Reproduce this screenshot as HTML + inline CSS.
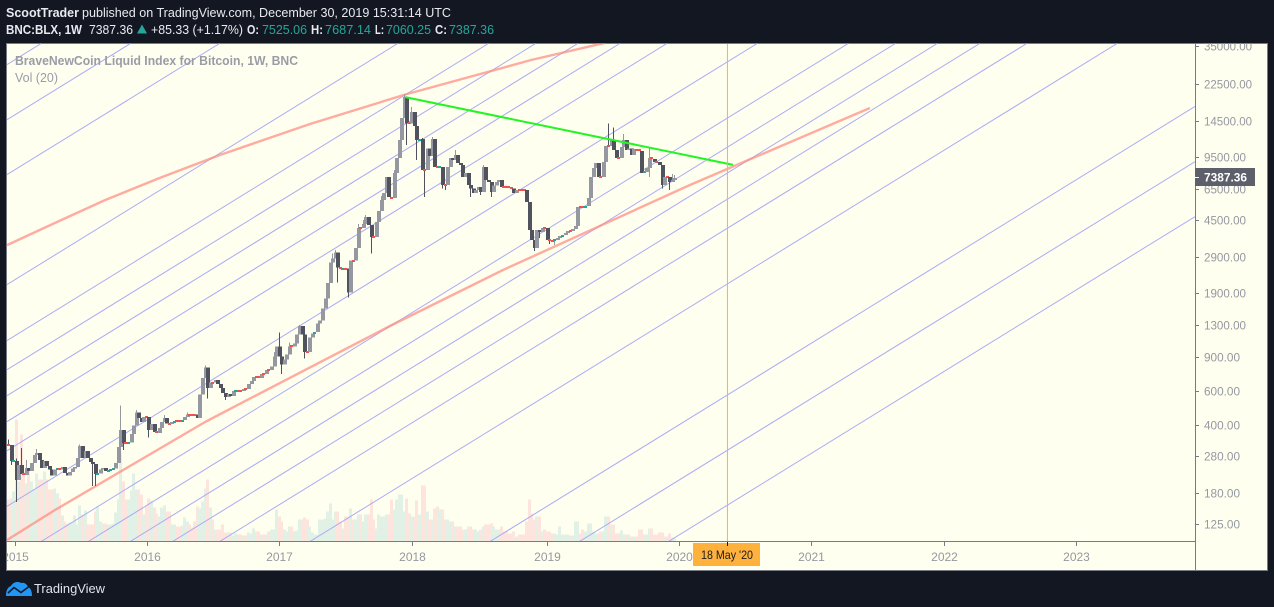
<!DOCTYPE html>
<html lang="en">
<head>
<meta charset="utf-8">
<title>BNC:BLX weekly chart</title>
<style>
html,body{margin:0;padding:0;background:#131722;width:1274px;height:607px;overflow:hidden}
svg{display:block;font-family:"Liberation Sans",sans-serif}
</style>
</head>
<body>
<svg id="chart" xmlns="http://www.w3.org/2000/svg" width="1274" height="607" viewBox="0 0 1274 607">
  <defs>
    <clipPath id="pane-clip"><rect x="7" y="43.5" width="1188" height="498"/></clipPath>
    <clipPath id="time-clip"><rect x="7" y="542" width="1188" height="28"/></clipPath>
    <clipPath id="price-clip"><rect x="1196" y="43.5" width="71" height="526"/></clipPath>
  </defs>

  <rect x="0" y="0" width="1274" height="607" fill="#131722"/>

  <g font-size="12.5" fill="#e8eaef">
    <text x="6" y="17" font-weight="700" textLength="73" lengthAdjust="spacingAndGlyphs">ScootTrader</text>
    <text x="82" y="17" textLength="369" lengthAdjust="spacingAndGlyphs">published on TradingView.com, December 30, 2019 15:31:14 UTC</text>
  </g>

  <g font-size="12.5" fill="#e8eaef">
    <text x="6" y="34" font-weight="700" textLength="76" lengthAdjust="spacingAndGlyphs">BNC:BLX, 1W</text>
    <text x="89" y="34" textLength="44" lengthAdjust="spacingAndGlyphs">7387.36</text>
    <polygon points="137,33.5 147,33.5 142,24.5" fill="#26a69a"/>
    <text x="151" y="34" textLength="92" lengthAdjust="spacingAndGlyphs">+85.33 (+1.17%)</text>
    <text x="247" y="34" font-weight="700" textLength="12" lengthAdjust="spacingAndGlyphs">O:</text>
    <text x="262" y="34" fill="#26a69a" textLength="45" lengthAdjust="spacingAndGlyphs">7525.06</text>
    <text x="311" y="34" font-weight="700" textLength="12" lengthAdjust="spacingAndGlyphs">H:</text>
    <text x="325" y="34" fill="#26a69a" textLength="46" lengthAdjust="spacingAndGlyphs">7687.14</text>
    <text x="375" y="34" font-weight="700" textLength="9" lengthAdjust="spacingAndGlyphs">L:</text>
    <text x="386" y="34" fill="#26a69a" textLength="45" lengthAdjust="spacingAndGlyphs">7060.25</text>
    <text x="435" y="34" font-weight="700" textLength="12" lengthAdjust="spacingAndGlyphs">C:</text>
    <text x="449" y="34" fill="#26a69a" textLength="45" lengthAdjust="spacingAndGlyphs">7387.36</text>
  </g>

  <rect x="6.5" y="43.5" width="1261" height="527" fill="#fffff0" stroke="#787b86" stroke-width="1"/>

  <g id="volume-layer" clip-path="url(#pane-clip)" shape-rendering="crispEdges"></g>
  <g id="channel-layer" clip-path="url(#pane-clip)"></g>
  <g id="trend-under-layer" clip-path="url(#pane-clip)"></g>
  <g id="candle-layer" clip-path="url(#pane-clip)" shape-rendering="crispEdges"></g>
  <g id="trend-over-layer" clip-path="url(#pane-clip)"></g>

  <g>
    <text x="15" y="65" font-size="12.5" font-weight="700" fill="#9a9ca6" textLength="283" lengthAdjust="spacingAndGlyphs">BraveNewCoin Liquid Index for Bitcoin, 1W, BNC</text>
    <text x="15" y="82" font-size="12.5" fill="#9a9ca6" textLength="43" lengthAdjust="spacingAndGlyphs">Vol (20)</text>
  </g>

  <line x1="1195.5" y1="43.5" x2="1195.5" y2="570" stroke="#787b86"/>
  <line x1="7" y1="541.5" x2="1195" y2="541.5" stroke="#787b86"/>
  <g id="price-axis" clip-path="url(#price-clip)"></g>
  <g id="time-axis" clip-path="url(#time-clip)"></g>

  <g>
    <rect x="1195" y="168" width="60" height="18" fill="#5d606b"/>
    <line x1="1195" y1="177.5" x2="1199" y2="177.5" stroke="#ffffff"/>
    <text x="1204" y="181.5" font-size="12" font-weight="700" fill="#ffffff" textLength="43" lengthAdjust="spacingAndGlyphs">7387.36</text>
  </g>

  <g>
    <rect x="693" y="543" width="67" height="23" fill="#ffb13e"/>
    <line x1="727.5" y1="542" x2="727.5" y2="546" stroke="#131722"/>
    <text x="701" y="559" font-size="12" fill="#1c1c1c" textLength="52" lengthAdjust="spacingAndGlyphs">18 May '20</text>
  </g>

  <g>
    <path d="M6 596 C6 590 8 587 11 586 C13 582 18 581 21 583 C24 582 27 584 28 587 C31 588 32 592 32 596 Z" fill="#2196f3"/>
    <path d="M8 593 L14 587.5 L21 592.5 L29 586.5" fill="none" stroke="#131722" stroke-width="1.6"/>
    <text x="34" y="593" font-size="13" fill="#e0e3eb" textLength="71" lengthAdjust="spacingAndGlyphs">TradingView</text>
  </g>
</svg>

<script>
// ---- chart data (weekly bars, index 0 = last week of 2014) ----
const closes = [
317,262,263,210,251,226,223,242,234,257,282,289,266,242,262,248,237,221,237,240,
237,245,228,221,231,240,245,272,313,272,296,272,260,254,226,227,237,242,234,235,
237,240,257,310,379,325,325,326,361,400,466,437,415,441,441,379,406,370,366,388,
415,437,410,406,415,420,420,420,426,441,454,454,454,454,437,574,700,790,622,662,
662,683,650,622,585,560,580,565,600,606,600,600,615,615,650,675,708,708,700,735,
735,770,770,800,900,1015,900,818,868,922,1015,1015,1050,1170,1290,1170,950,950,1130,1185,
1200,1330,1375,1590,1790,2150,2730,2860,3080,2570,2540,2545,2540,1920,2790,2790,3240,4100,4100,4300,
4670,4250,3690,3690,4400,5010,5700,6200,7480,5900,5830,7850,9370,11570,15000,19200,14100,14100,16100,13650,
11570,11700,8125,8125,10500,9580,11700,8420,8320,8420,6825,6825,8420,9370,9150,9700,8830,8630,7480,7850,
6825,6550,6200,6420,6650,6270,8420,7230,7050,6270,6750,7050,7230,6650,6650,6650,6650,6550,6200,6420,
6420,6420,6420,5560,4010,3560,3240,4010,3920,4100,4100,3560,3520,3520,3560,3640,3730,3775,3870,3960,
3960,4060,4200,5250,5250,5250,5310,5830,7500,8320,8830,7500,7500,8930,10770,10770,11570,10290,9370,9370,
10650,11570,10290,10500,9700,10400,10290,10170,7850,7950,8320,9370,9260,8950,8930,8630,6825,7500,7500,7050,
7230,7387.36
];
const firstOpen = 318;
const volumes = [
42,43,50,122,60,107,70,58,72,60,52,68,62,62,70,62,52,52,53,48,
43,26,20,18,19,19,26,17,36,27,31,17,17,17,30,35,20,18,18,17,
17,18,29,42,88,60,42,42,51,68,52,52,47,27,35,43,41,34,28,25,
34,36,30,30,17,17,15,15,16,24,20,17,14,20,35,33,40,53,62,34,
22,12,12,12,17,9,9,9,6,8,7,7,6,6,9,8,13,10,10,7,
7,7,10,12,12,32,25,20,12,10,15,15,10,11,22,22,24,22,15,9,
7,7,22,22,23,30,38,22,30,30,20,13,25,25,33,22,22,27,27,20,
27,27,42,22,13,27,25,25,27,27,42,32,42,47,47,30,43,28,25,25,
41,27,56,56,30,22,22,33,35,32,32,22,22,20,20,15,15,15,12,12,
15,15,12,12,10,12,15,17,17,18,15,12,12,15,10,10,8,8,10,5,
7,7,7,20,42,28,22,25,25,10,12,10,10,8,8,7,15,7,7,7,
6,6,20,20,8,12,10,18,18,10,8,8,10,10,25,25,17,17,8,8,
11,7,7,7,5,5,5,12,12,7,7,13,13,7,7,9,9,5,5,8,
4,3
];
const wickHighs = {0:338,3:270,5:307,7:266,11:303,28:320,44:505,45:379,50:479,61:452,70:466,77:808,78:790,
104:950,106:1195,110:1060,114:1310,127:3040,128:3160,137:4300,139:4510,140:4780,146:5980,151:8125,
155:19800,158:17100,162:11850,166:12000,175:10290,186:8630,235:14100,237:13400,241:12400,251:10500,
260:7760,261:7665};
const wickLows = {1:250,3:162,33:196,34:196,45:300,55:346,78:550,85:540,107:735,116:880,129:2160,133:1810,
142:3040,156:10900,160:9150,163:5900,170:6550,171:6420,181:5900,185:6050,189:5900,206:3120,208:3640,
212:3400,214:3350,251:7480,256:6550,259:6420};
const priceTicks = [35000,22500,14500,9500,6500,4500,2900,1900,1300,900,600,400,280,180,125];
const priceTickLabels = ["35000.00","22500.00","14500.00","9500.00","6500.00","4500.00","2900.00","1900.00","1300.00","900.00","600.00","400.00","280.00","180.00","125.00"];
const yearTickWeeks = [2.6,54.6,106.3,158.4,211.2,263,314.5,366.6,418.3];
const yearLabels = ["2015","2016","2017","2018","2019","2020","2021","2022","2023"];
// Parallel channel: price of each line at week 0 and weekly growth shared by all lines
const channelPricesAtWeekZero = [28380,14820,7750,2119,1095,777,572,421,299,155,79.9,56.7,41.8,30.7,21.8,11.3,3.05,1.59,0.832];
const channelWeeklyGrowth = 1.01875;
const channelWeekRange = [-20,520];
// Drawing anchors: weeks + prices
const lowerCurveWeeks = [-0.4,18.4,77.2,93.6,149.6,193.9,267.1,337.6];
const lowerCurvePrices = [103.5,147.5,416,539,1291,2498,6810,16880];
const upperCurveWeeks = [-0.4,19.2,38,59.5,83,118.3,155.1,204.9,233.9];
const upperCurvePrices = [3350,4400,5700,7400,9700,13975,19700,29750,36400];
const resistanceWeeks = [155.6,284];
const resistancePrices = [19200,8630];
const markerWeek = 281.8;

// ---- axis functions ----
function xOf(week){ return 8 + 2.553 * week; }
function yOf(price){ return 524 - 84.8 * Math.log(price / 125); }
function volTop(v){ return 541.5 - v; }

// Clip a straight segment to the pane rectangle so nothing is emitted outside it
function clipToPane(x1, y1, x2, y2){
  const L = 7, R = 1195, T = 43.5, B = 541.5;
  let t0 = 0, t1 = 1;
  const dx = x2 - x1, dy = y2 - y1;
  const tests = [[-dx, x1 - L], [dx, R - x1], [-dy, y1 - T], [dy, B - y1]];
  for (const pq of tests){
    const p = pq[0], q = pq[1];
    if (p === 0){ if (q < 0) return null; continue; }
    const r = q / p;
    if (p < 0){ if (r > t1) return null; if (r > t0) t0 = r; }
    else { if (r < t0) return null; if (r < t1) t1 = r; }
  }
  return [x1 + t0 * dx, y1 + t0 * dy, x1 + t1 * dx, y1 + t1 * dy];
}

const NS = 'http://www.w3.org/2000/svg';
function mk(tag, parent, attrs){
  const n = document.createElementNS(NS, tag);
  for (const k in attrs) n.setAttribute(k, attrs[k]);
  parent.appendChild(n);
  return n;
}

const volumeLayer = document.getElementById('volume-layer');
const channelLayer = document.getElementById('channel-layer');
const underLayer = document.getElementById('trend-under-layer');
const candleLayer = document.getElementById('candle-layer');
const overLayer = document.getElementById('trend-over-layer');
const priceAxis = document.getElementById('price-axis');
const timeAxis = document.getElementById('time-axis');

const UP = '#9598a1', DOWN = '#50535e', DOJI_DOWN = '#ef5350', DOJI_UP = '#26a69a';
const VOL_UP = '#e2f1e5', VOL_DOWN = '#fde4dc';

closes.forEach(function(c, i){
  const o = i === 0 ? firstOpen : closes[i - 1];
  const up = c > o;
  const px = Math.round(xOf(i));

  const vb = mk('rect', volumeLayer, {x: px - 1, y: volTop(volumes[i]), width: 3, height: volumes[i], fill: up ? VOL_UP : VOL_DOWN});
  
  

  const yo = yOf(o), yc = yOf(c);
  const top = Math.min(yo, yc), bottom = Math.max(yo, yc);
  const small = bottom - top < 1.5;
  const colour = small ? (up ? DOJI_UP : DOJI_DOWN) : (up ? UP : DOWN);
  const hi = wickHighs[i] !== undefined ? wickHighs[i] : Math.max(o, c);
  const lo = wickLows[i] !== undefined ? wickLows[i] : Math.min(o, c);

  const wick = mk('rect', candleLayer, {x: px, y: yOf(hi), width: 1, height: yOf(lo) - yOf(hi), fill: up ? UP : DOWN});
  
  

  const body = small
    ? mk('rect', candleLayer, {x: px - 1, y: Math.round((top + bottom) / 2) - 1, width: 3, height: 2, fill: colour})
    : mk('rect', candleLayer, {x: px - 1, y: top, width: 4, height: bottom - top, fill: colour});
  
  
});

channelPricesAtWeekZero.forEach(function(p){
  const a = channelWeekRange[0], b = channelWeekRange[1];
  const seg = clipToPane(xOf(a), yOf(p * Math.pow(channelWeeklyGrowth, a)), xOf(b), yOf(p * Math.pow(channelWeeklyGrowth, b)));
  if (!seg) return;
  const ln = mk('line', channelLayer, {x1: seg[0], y1: seg[1], x2: seg[2], y2: seg[3], stroke: '#aaaaf6', 'stroke-width': 1});
  
  
});

function polyPoints(weeks, prices){
  return weeks.map(function(w, i){ return xOf(w).toFixed(1) + ',' + yOf(prices[i]).toFixed(1); }).join(' ');
}

const lowerCurve = mk('polyline', underLayer, {points: polyPoints(lowerCurveWeeks, lowerCurvePrices), fill: 'none', stroke: '#ff8a80', 'stroke-opacity': 0.72, 'stroke-width': 2.4, 'stroke-linejoin': 'round'});



const upperCurve = mk('polyline', underLayer, {points: polyPoints(upperCurveWeeks, upperCurvePrices), fill: 'none', stroke: '#ff8a80', 'stroke-opacity': 0.72, 'stroke-width': 2.4, 'stroke-linejoin': 'round'});



const resistance = mk('polyline', overLayer, {points: polyPoints(resistanceWeeks, resistancePrices), fill: 'none', stroke: '#22f522', 'stroke-width': 2});



const marker = mk('line', overLayer, {x1: xOf(markerWeek), x2: xOf(markerWeek), y1: 44, y2: 541, stroke: '#f0b060', 'stroke-width': 1});



priceTicks.forEach(function(p, i){
  const y = Math.round(yOf(p)) + 0.5;
  const t = mk('line', priceAxis, {x1: 1195, x2: 1199, y1: y, y2: y, stroke: '#787b86'});
  
  
  const lab = mk('text', priceAxis, {x: 1204, y: y + 4, 'font-size': 12, fill: '#9598a1'});
  lab.textContent = priceTickLabels[i];
  lab.setAttribute('textLength', priceTickLabels[i].length * 6);
  lab.setAttribute('lengthAdjust', 'spacingAndGlyphs');
  
  
});

yearTickWeeks.forEach(function(w, i){
  const x = Math.round(xOf(w)) + 0.5;
  const t = mk('line', timeAxis, {x1: x, x2: x, y1: 542, y2: 546, stroke: '#787b86'});
  
  
  const lab = mk('text', timeAxis, {x: x, y: 561, 'font-size': 12, fill: '#9598a1', 'text-anchor': 'middle'});
  lab.textContent = yearLabels[i];
  
  
});
</script>
</body>
</html>
